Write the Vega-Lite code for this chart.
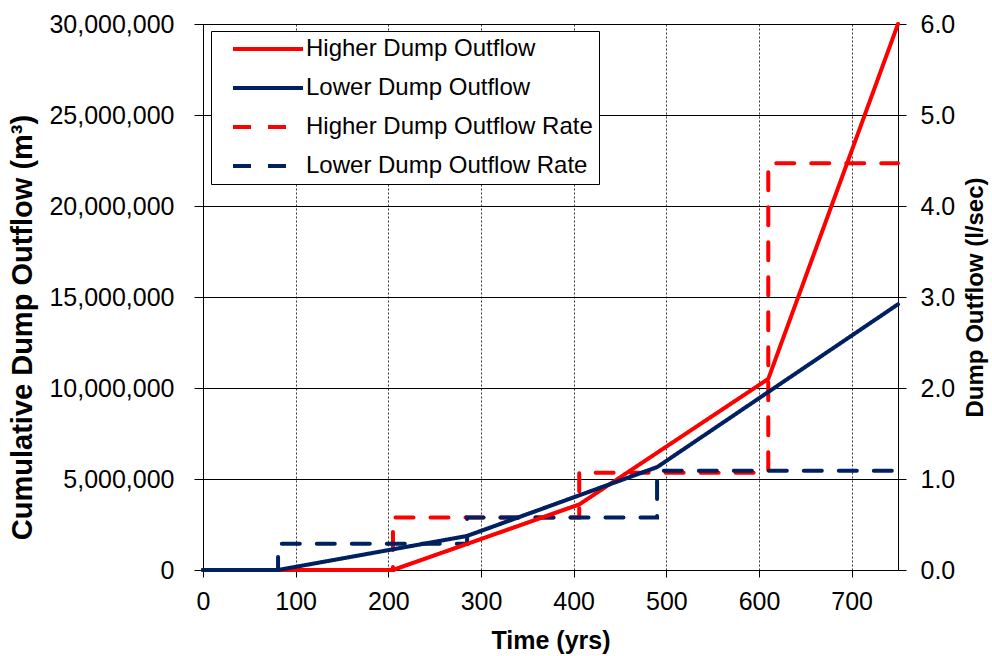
{
  "$schema": "https://vega.github.io/schema/vega-lite/v6.json",
  "width": 695,
  "height": 546,
  "autosize": {"type": "none"},
  "padding": {"left": 203, "top": 24, "right": 94, "bottom": 86},
  "background": "white",
  "config": {
    "view": {"stroke": null},
    "font": "Liberation Sans",
    "axis": {
      "labelFont": "Liberation Sans",
      "titleFont": "Liberation Sans",
      "labelFontSize": 25,
      "titleFontSize": 25,
      "titleFontWeight": "bold",
      "labelColor": "black",
      "titleColor": "black",
      "domainColor": "black",
      "tickColor": "black",
      "domainWidth": 1,
      "tickWidth": 1
    }
  },
  "datasets": {
    "cum": [
      {"t": 0, "v": 0, "s": "Higher Dump Outflow"},
      {"t": 205, "v": 0, "s": "Higher Dump Outflow"},
      {"t": 406, "v": 3600000, "s": "Higher Dump Outflow"},
      {"t": 610, "v": 10500000, "s": "Higher Dump Outflow"},
      {"t": 750, "v": 30000000, "s": "Higher Dump Outflow"},
      {"t": 0, "v": 0, "s": "Lower Dump Outflow"},
      {"t": 81, "v": 0, "s": "Lower Dump Outflow"},
      {"t": 285, "v": 1870000, "s": "Lower Dump Outflow"},
      {"t": 490, "v": 5650000, "s": "Lower Dump Outflow"},
      {"t": 750, "v": 14600000, "s": "Lower Dump Outflow"}
    ],
    "rate": [
      {"t": 0, "r": 0, "s": "Higher Dump Outflow Rate"},
      {"t": 205, "r": 0.577, "s": "Higher Dump Outflow Rate"},
      {"t": 406, "r": 1.07, "s": "Higher Dump Outflow Rate"},
      {"t": 610, "r": 4.47, "s": "Higher Dump Outflow Rate"},
      {"t": 750, "r": 4.47, "s": "Higher Dump Outflow Rate"},
      {"t": 0, "r": 0, "s": "Lower Dump Outflow Rate"},
      {"t": 81, "r": 0.288, "s": "Lower Dump Outflow Rate"},
      {"t": 285, "r": 0.577, "s": "Lower Dump Outflow Rate"},
      {"t": 490, "r": 1.09, "s": "Lower Dump Outflow Rate"},
      {"t": 750, "r": 1.09, "s": "Lower Dump Outflow Rate"}
    ]
  },
  "layer": [
    {
      "data": {"name": "rate"},
      "mark": {"type": "line", "interpolate": "step-after", "strokeWidth": 4, "strokeCap": "round"},
      "encoding": {
        "x": {"field": "t", "type": "quantitative", "scale": {"domain": [0, 750], "nice": false},
          "axis": {"values": [0,100,200,300,400,500,600,700], "title": "Time (yrs)", "grid": true, "gridDash": [2,2], "gridColor": "#333", "gridWidth": 1, "tickSize": 7, "labelPadding": 12, "titlePadding": 14, "labelFlush": false}},
        "y": {"field": "r", "type": "quantitative", "scale": {"domain": [0, 6], "nice": false},
          "axis": {"orient": "right", "values": [0,1,2,3,4,5,6], "format": ".1f", "grid": false, "title": "Dump Outflow (l/sec)", "titleFontSize": 24, "tickSize": 8, "labelPadding": 14, "titleAngle": 270, "titleBaseline": "top", "titlePadding": 9}},
        "color": {"field": "s", "type": "nominal"},
        "strokeDash": {"field": "s", "type": "nominal"},
        "order": {"field": "t", "type": "quantitative"}
      }
    },
    {
      "data": {"name": "cum"},
      "mark": {"type": "line", "strokeWidth": 4, "strokeCap": "round", "strokeJoin": "round"},
      "encoding": {
        "x": {"field": "t", "type": "quantitative"},
        "y": {"field": "v", "type": "quantitative", "scale": {"domain": [0, 30000000], "nice": false},
          "axis": {"orient": "left", "values": [0,5000000,10000000,15000000,20000000,25000000,30000000], "format": ",d", "grid": true, "gridColor": "black", "gridWidth": 1, "gridOpacity": 1, "title": "Cumulative Dump Outflow (m³)", "titleFontSize": 29, "titleY": 303, "titleAlign": "center", "tickSize": 9, "labelPadding": 20, "titlePadding": 11}},
        "color": {"field": "s", "type": "nominal",
          "scale": {"domain": ["Higher Dump Outflow", "Lower Dump Outflow", "Higher Dump Outflow Rate", "Lower Dump Outflow Rate"], "range": ["#FF0000", "#002060", "#FF0000", "#002060"]},
          "legend": {"title": null, "orient": "none", "legendX": 8, "legendY": 7, "strokeColor": "black", "fillColor": "white", "padding": 6, "labelFontSize": 24, "labelFont": "Liberation Sans", "labelColor": "black", "labelLimit": 600, "labelExpr": "datum.label + '\u00a0\u00a0'", "symbolType": "M-5,0H5", "symbolSize": 196, "symbolStrokeWidth": 4, "symbolOffset": 39, "labelOffset": 26, "rowPadding": 15}},
        "strokeDash": {"field": "s", "type": "nominal",
          "scale": {"domain": ["Higher Dump Outflow", "Lower Dump Outflow", "Higher Dump Outflow Rate", "Lower Dump Outflow Rate"], "range": [[1, 0], [1, 0], [18, 17], [18, 17]]},
          "legend": {"title": null}},
        "order": {"field": "t", "type": "quantitative"}
      }
    }
  ],
  "resolve": {"scale": {"y": "independent"}}
}
